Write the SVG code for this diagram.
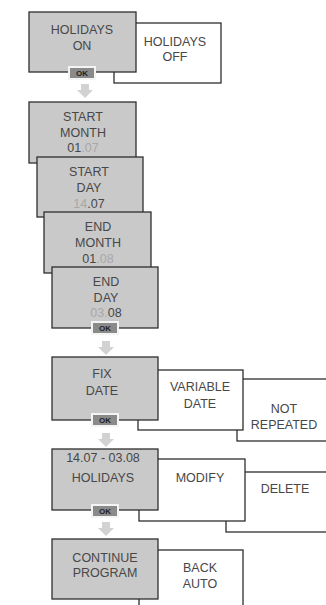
<svg xmlns="http://www.w3.org/2000/svg" width="326" height="605" viewBox="0 0 326 605">
<defs>
<style>
.g{fill:#c9c9c9;stroke:#2e2e2e;stroke-width:1.3}
.w{fill:#fff;stroke:#2e2e2e;stroke-width:1.3}
text{font-family:"Liberation Sans",Arial,sans-serif;font-size:12.5px;fill:#474747;text-anchor:middle}
.lt{fill:#a8a8a8}
.okb{fill:#8a8a8a;stroke:#f4f4f4;stroke-width:2}
.okt{font-size:8px;font-weight:bold;fill:#222}
.ar{fill:#d2d2d2}
</style>
<g id="okbtn"><rect class="okb" x="0" y="0" width="26" height="12"/><text class="okt" x="13" y="9">OK</text></g>
<path id="arrow" class="ar" d="M-4 0 H4 V6 H8 L0 14 L-8 6 H-4 Z"/>
</defs>
<g id="connectors">
<use href="#arrow" x="85" y="84"/>
<use href="#arrow" x="106" y="341"/>
<use href="#arrow" x="106" y="433"/>
<use href="#arrow" x="106" y="522"/>
</g>
<g id="holidays-off"><rect class="w" x="114" y="23" width="107" height="60"/><text x="175" y="46">HOLIDAYS</text><text x="175" y="61">OFF</text></g>
<g id="holidays-on"><rect class="g" x="29" y="12" width="107" height="60"/><text x="82" y="34">HOLIDAYS</text><text x="82" y="50">ON</text><use href="#okbtn" x="69" y="67"/></g>
<g id="start-month"><rect class="g" x="29" y="102" width="107" height="61"/><text x="83" y="121">START</text><text x="83" y="137">MONTH</text><text x="83" y="152">01<tspan class="lt">.07</tspan></text></g>
<g id="start-day"><rect class="g" x="37" y="157" width="106" height="60"/><text x="89" y="176">START</text><text x="89" y="192">DAY</text><text x="89" y="208"><tspan class="lt">14</tspan>.07</text></g>
<g id="end-month"><rect class="g" x="44" y="212" width="107" height="61"/><text x="98" y="231">END</text><text x="98" y="247">MONTH</text><text x="98" y="263">01<tspan class="lt">.08</tspan></text></g>
<g id="end-day"><rect class="g" x="52" y="267" width="106" height="61"/><text x="106" y="286">END</text><text x="106" y="302">DAY</text><text x="106" y="317"><tspan class="lt">03.</tspan>08</text><use href="#okbtn" x="92" y="322"/></g>
<g id="not-repeated"><rect class="w" x="237" y="379" width="100" height="62"/><text x="284" y="413">NOT</text><text x="284" y="429">REPEATED</text></g>
<g id="variable-date"><rect class="w" x="138" y="370" width="105" height="60"/><text x="200" y="391">VARIABLE</text><text x="200" y="408">DATE</text></g>
<g id="fix-date"><rect class="g" x="52" y="357" width="106" height="63"/><text x="102" y="378">FIX</text><text x="102" y="395">DATE</text><use href="#okbtn" x="92" y="414"/></g>
<g id="delete"><rect class="w" x="226" y="472" width="110" height="60"/><text x="285" y="493">DELETE</text></g>
<g id="modify"><rect class="w" x="139" y="459" width="106" height="62"/><text x="200" y="482">MODIFY</text></g>
<g id="holidays-range"><rect class="g" x="52" y="449" width="106" height="61"/><text x="103" y="462">14.07 - 03.08</text><text x="103" y="482">HOLIDAYS</text><use href="#okbtn" x="92" y="505"/></g>
<g id="back-auto"><rect class="w" x="139" y="550" width="104" height="70"/><text x="200" y="572">BACK</text><text x="200" y="588">AUTO</text></g>
<g id="continue-program"><rect class="g" x="52" y="539" width="106" height="60"/><text x="105" y="562">CONTINUE</text><text x="105" y="577">PROGRAM</text></g>
</svg>
